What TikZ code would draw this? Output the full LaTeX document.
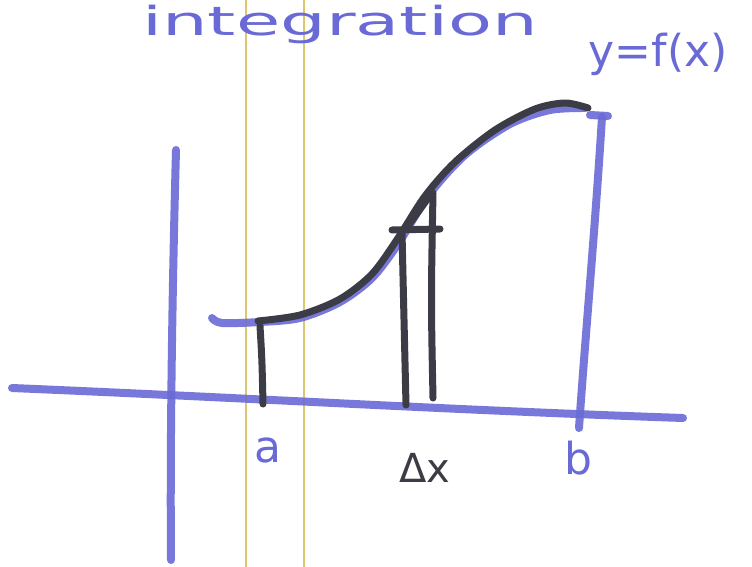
\documentclass[tikz,border=0pt]{standalone}
\usepackage{fontspec}
\setmainfont{DejaVu Sans}
\definecolor{pen}{HTML}{6A6AD6}
\definecolor{ink}{HTML}{3C3C46}
\definecolor{rule}{HTML}{DCC670}
\begin{document}
\begin{tikzpicture}[x=1pt,y=-1pt,
  blue/.style={draw=pen,line width=8pt,line cap=round,line join=round,opacity=0.9},
  blk/.style={draw=ink,line width=7pt,line cap=round,line join=round},
  rl/.style={draw=rule,line width=1.2pt},
  lbl/.style={text=pen,font=\fontsize{44}{44}\selectfont}]
\useasboundingbox (0,0) rectangle (752,567);
\fill[white] (0,0) rectangle (752,567);
% ruled lines
\draw[rl] (246,0) -- (246,567);
\draw[rl] (304,0) -- (304,567);
% heading
\node[text=pen,font=\fontsize{40}{40}\selectfont,anchor=base,xscale=1.8] (head) at (340,36) {integration};
% axes
\draw[blue] (12,388) .. controls (250,398) and (450,410) .. (683,418);
\draw[blue] (176,150) .. controls (172,300) and (170,450) .. (171,560);
% right bound b
\draw[blue] (590,115) -- (608,116);
\draw[blue] (602,117) .. controls (595,230) and (585,340) .. (579,428);
% blue curve
\draw[blue] plot[smooth] coordinates {(212,318) (222,323) (260,322) (300,318) (340,302) (372,278) (398,244) (428,196) (465,155) (510,124) (550,110) (585,108)};
% black curve
\draw[blk] plot[smooth] coordinates {(258,321) (300,315) (340,299) (372,274) (398,238) (425,196) (455,162) (495,130) (535,109) (565,103) (588,108)};
% a marker
\draw[blk] (260,326) .. controls (262,360) .. (263,404);
% strip
\draw[blk] (392,230) -- (440,229);
\draw[blk] (402,232) .. controls (404,320) .. (406,405);
\draw[blk] (433,193) .. controls (431,300) .. (433,398);
\draw[blk] (408,226) -- (431,194);
% labels
\node[lbl] (la) at (268,450) {a};
\node[lbl] (lb) at (578,458) {b};
\node[text=ink,font=\fontsize{40}{40}\selectfont] (ldx) at (425,468) {Δx};
\node[lbl,font=\fontsize{44}{44}\selectfont] (lf) at (658,54) {y=f(x)};
\end{tikzpicture}
\end{document}
